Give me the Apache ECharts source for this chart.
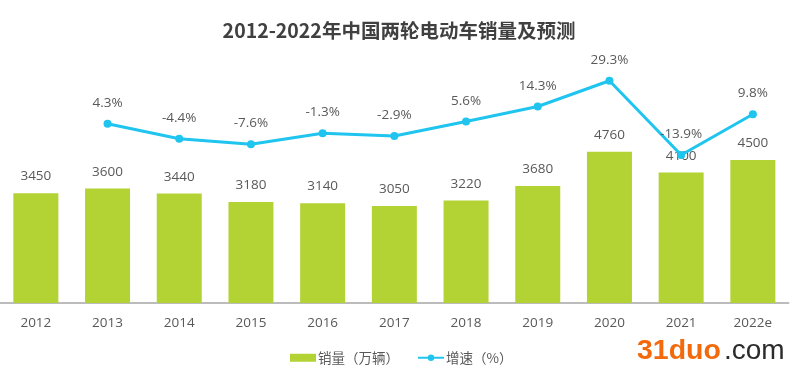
<!DOCTYPE html>
<html>
<head>
<meta charset="utf-8">
<script src="https://cdn.jsdelivr.net/npm/echarts@6/dist/echarts.min.js"></script>
<style>
html,body{margin:0;padding:0;background:#fff;}
#chart{width:800px;height:373px;}
</style>
</head>
<body>
<div id="chart"></div>
<script>
const titleText = '2012-2022年中国两轮电动车销量及预测';
const categories = ['2012','2013','2014','2015','2016','2017','2018','2019','2020','2021','2022e'];
const sales = [3450, 3600, 3440, 3180, 3140, 3050, 3220, 3680, 4760, 4100, 4500];
const growth = [null, 4.3, -4.4, -7.6, -1.3, -2.9, 5.6, 14.3, 29.3, -13.9, 9.8];
const salesName = '销量（万辆）';
const growthName = '增速（%）';

const cjk = '"Noto Sans CJK SC", sans-serif';
const num = '"Open Sans", "Noto Sans CJK SC", sans-serif';
const chart = echarts.init(document.getElementById('chart'), null, {renderer: 'canvas'});
chart.setOption({
  animation: false,
  backgroundColor: '#ffffff',
  textStyle: {fontFamily: num},
  title: {
    text: titleText,
    left: 394,
    textAlign: 'center',
    top: 16,
    textStyle: {fontSize: 19.5, fontWeight: 'bold', color: '#404040', fontFamily: cjk}
  },
  legend: {
    left: 285,
    top: 346,
    itemWidth: 26,
    itemHeight: 8,
    itemGap: 18,
    textStyle: {fontSize: 13.5, color: '#595959', fontFamily: cjk, padding: [0,0,0,-3]},
    data: [
      {name: salesName, icon: 'rect'},
      {name: growthName}
    ]
  },
  grid: {left: 0, right: 11.3, top: 48.6, bottom: 70, containLabel: false},
  xAxis: {
    type: 'category',
    data: categories,
    boundaryGap: true,
    axisLine: {lineStyle: {color: '#a6a6a6', width: 1.5}},
    axisTick: {show: false},
    axisLabel: {fontSize: 13.5, color: '#595959', margin: 13, fontFamily: num}
  },
  yAxis: [
    {type: 'value', min: 0, max: 8000, show: false, splitLine: {show: false}},
    {type: 'value', min: -100, max: 48, show: false, splitLine: {show: false}}
  ],
  series: [
    {
      name: salesName,
      type: 'bar',
      data: sales,
      barWidth: 45,
      itemStyle: {color: '#b3d234'},
      label: {show: true, position: 'top', distance: 10, fontSize: 13.5, color: '#595959', fontFamily: num}
    },
    {
      name: growthName,
      type: 'line',
      yAxisIndex: 1,
      data: growth,
      symbol: 'circle',
      symbolSize: 8,
      lineStyle: {color: '#1fc4ef', width: 3},
      itemStyle: {color: '#1fc4ef'},
      label: {show: true, position: 'top', distance: 10, fontSize: 13.5, color: '#595959', fontFamily: num,
        formatter: p => p.value + '%'}
    }
  ],
  graphic: [
    {type: 'text', left: 637, top: 337, style: {text: '31duo', fill: '#f26a0c', font: 'bold 28.5px "Liberation Sans", Arial, sans-serif'}},
    {type: 'text', left: 724, top: 337, style: {text: '.com', fill: '#2b2b2b', font: '28px "Liberation Sans", Arial, sans-serif'}}
  ]
});
</script>
</body>
</html>
